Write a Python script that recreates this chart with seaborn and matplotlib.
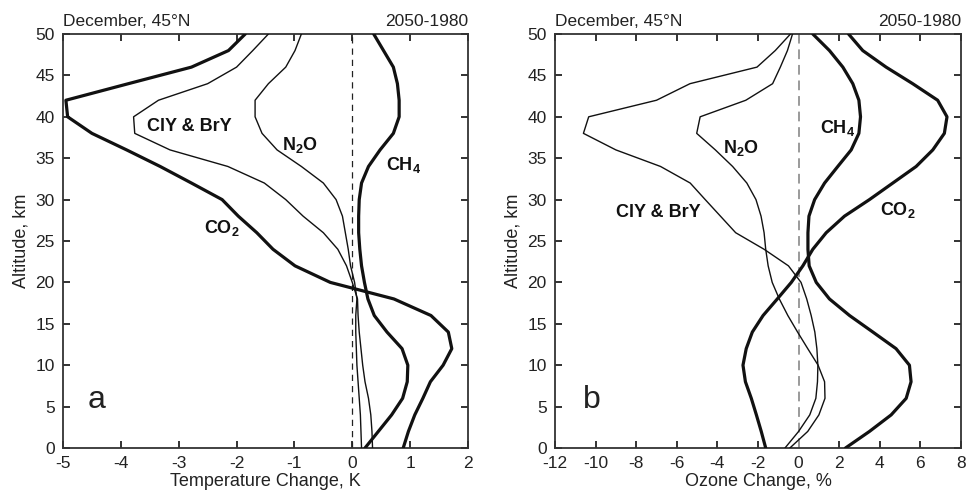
import matplotlib
matplotlib.use("Agg")
import matplotlib.pyplot as plt
import seaborn as sns
import pandas as pd

# ---------------- data ----------------
altitude = list(range(0, 51, 2))  # km

# Panel a: temperature change (K)
temp_co2 = [0.88, 0.97, 1.08, 1.22, 1.35, 1.57, 1.72, 1.66, 1.36, 0.72, -0.38, -0.99, -1.37,
            -1.65, -1.97, -2.25, -2.78, -3.32, -3.9, -4.5, -4.92, -4.95, -3.87, -2.78, -2.14, -1.85]
temp_ch4 = [0.22, 0.45, 0.68, 0.87, 0.95, 0.96, 0.86, 0.6, 0.38, 0.27, 0.21, 0.16, 0.13,
            0.11, 0.11, 0.12, 0.16, 0.28, 0.48, 0.71, 0.81, 0.81, 0.78, 0.71, 0.54, 0.37]
temp_cly = [0.35, 0.34, 0.32, 0.28, 0.22, 0.18, 0.15, 0.12, 0.1, 0.09, 0.0, -0.1, -0.25,
            -0.5, -0.85, -1.15, -1.52, -2.15, -3.15, -3.76, -3.78, -3.35, -2.5, -2.0, -1.72, -1.45]
temp_n2o = [0.16, 0.15, 0.14, 0.12, 0.1, 0.08, 0.07, 0.06, 0.06, 0.08, 0.04, -0.03, -0.07,
            -0.12, -0.17, -0.28, -0.5, -0.88, -1.3, -1.56, -1.68, -1.68, -1.45, -1.15, -0.99, -0.88]

# Panel b: ozone change (%)
ozone_co2 = [-1.62, -1.84, -2.08, -2.33, -2.62, -2.74, -2.58, -2.28, -1.75, -1.05, -0.36, 0.21, 0.7,
             1.36, 2.26, 3.49, 4.64, 5.79, 6.61, 7.18, 7.31, 6.85, 5.62, 4.31, 3.16, 2.46]
ozone_ch4 = [2.31, 3.49, 4.56, 5.3, 5.54, 5.46, 4.8, 3.66, 2.51, 1.52, 0.87, 0.52, 0.46,
             0.46, 0.51, 0.79, 1.28, 1.93, 2.59, 2.97, 3.05, 2.97, 2.67, 2.18, 1.52, 0.7]
ozone_cly = [-0.67, 0.0, 0.55, 0.85, 0.93, 0.95, 0.9, 0.8, 0.62, 0.4, 0.12, -0.5, -1.7,
             -3.1, -3.85, -4.6, -5.34, -6.8, -9.0, -10.6, -10.34, -7.0, -5.35, -2.05, -1.15, -0.4]
ozone_n2o = [-0.43, 0.45, 1.0, 1.3, 1.28, 0.96, 0.45, -0.05, -0.53, -0.95, -1.3, -1.5, -1.62,
             -1.7, -1.85, -2.1, -2.55, -3.25, -4.1, -5.02, -4.85, -2.6, -1.28, -0.9, -0.55, -0.3]

species = ["CO2", "CH4", "ClY", "N2O"]
thick = {"CO2": True, "CH4": True, "ClY": False, "N2O": False}

temp_ticks = [-5, -4, -3, -2, -1, 0, 1, 2]
ozone_ticks = [-12, -10, -8, -6, -4, -2, 0, 2, 4, 6, 8]
alt_ticks = [0, 5, 10, 15, 20, 25, 30, 35, 40, 45, 50]

# label positions (data coordinates)
labels_a = [("ClY & BrY", -2.82, 38.8), ("N$_2$O", -0.9, 36.6),
            ("CH$_4$", 0.88, 34.2), ("CO$_2$", -2.26, 26.6)]
labels_b = [("ClY & BrY", -6.89, 28.4), ("N$_2$O", -2.82, 36.2),
            ("CH$_4$", 1.93, 38.6), ("CO$_2$", 4.89, 28.8)]

# ---------------- style ----------------
sns.set_style("ticks")
plt.rcParams["font.family"] = ["Liberation Sans", "DejaVu Sans"]
plt.rcParams["mathtext.default"] = "regular"
plt.rcParams["axes.unicode_minus"] = False

fig = plt.figure(figsize=(9.73, 4.98), dpi=100)
axL = fig.add_axes([63 / 973, 1 - 448 / 498, 405 / 973, 414 / 498])
axR = fig.add_axes([555 / 973, 1 - 448 / 498, 406 / 973, 414 / 498])

ink = "#111111"


def make_df(vals):
    rows = []
    for sp, v in zip(species, vals):
        for a, x in zip(altitude, v):
            rows.append({"species": sp, "alt": a, "val": x})
    return pd.DataFrame(rows)


def panel(ax, df, xlim, xticks, xlabel, letter, letter_xy, labels, dash_color, dash_lw, dash_pat):
    ax.axvline(0, color=dash_color, lw=dash_lw, dashes=dash_pat, zorder=1)
    for sp in species:
        sub = df[df["species"] == sp]
        sns.lineplot(data=sub, x="val", y="alt", sort=False, estimator=None, ax=ax,
                     color=ink, lw=2.3 if thick[sp] else 1.0, zorder=3)
    ax.set_xlim(*xlim)
    ax.set_ylim(0, 50)
    ax.set_xticks(xticks)
    ax.set_yticks(alt_ticks)
    ax.set_xticklabels([str(t) for t in xticks])
    ax.set_xlabel(xlabel, fontsize=13, labelpad=1, color="#222222")
    ax.set_ylabel("Altitude, km", fontsize=13, labelpad=4, color="#222222")
    ax.tick_params(direction="in", top=True, right=True, length=5, width=1.3,
                   color="#222222", labelsize=12.5, labelcolor="#222222", pad=6)
    for s in ax.spines.values():
        s.set_linewidth(1.3)
        s.set_color("#333333")
    for txt, x, y in labels:
        ax.text(x, y, txt, ha="center", va="center", fontsize=13, fontweight="bold", color=ink)
    ax.text(letter_xy[0], letter_xy[1], letter, ha="center", va="center", fontsize=23, color="#222222")
    ax.text(0, 1.02, "December, 45°N", transform=ax.transAxes, ha="left", va="baseline",
            fontsize=12.5, color="#222222")
    ax.text(1, 1.02, "2050-1980", transform=ax.transAxes, ha="right", va="baseline",
            fontsize=12.5, color="#222222")


dfa = make_df([temp_co2, temp_ch4, temp_cly, temp_n2o])
dfb = make_df([ozone_co2, ozone_ch4, ozone_cly, ozone_n2o])

panel(axL, dfa, (-5, 2), temp_ticks, "Temperature Change, K", "a", (-4.42, 5.8), labels_a,
      "#222222", 0.9, (5, 4))
panel(axR, dfb, (-12, 8), ozone_ticks, "Ozone Change, %", "b", (-10.2, 5.8), labels_b,
      "#9a9a9a", 1.4, (5, 3))

fig.savefig("out.png", dpi=100)
